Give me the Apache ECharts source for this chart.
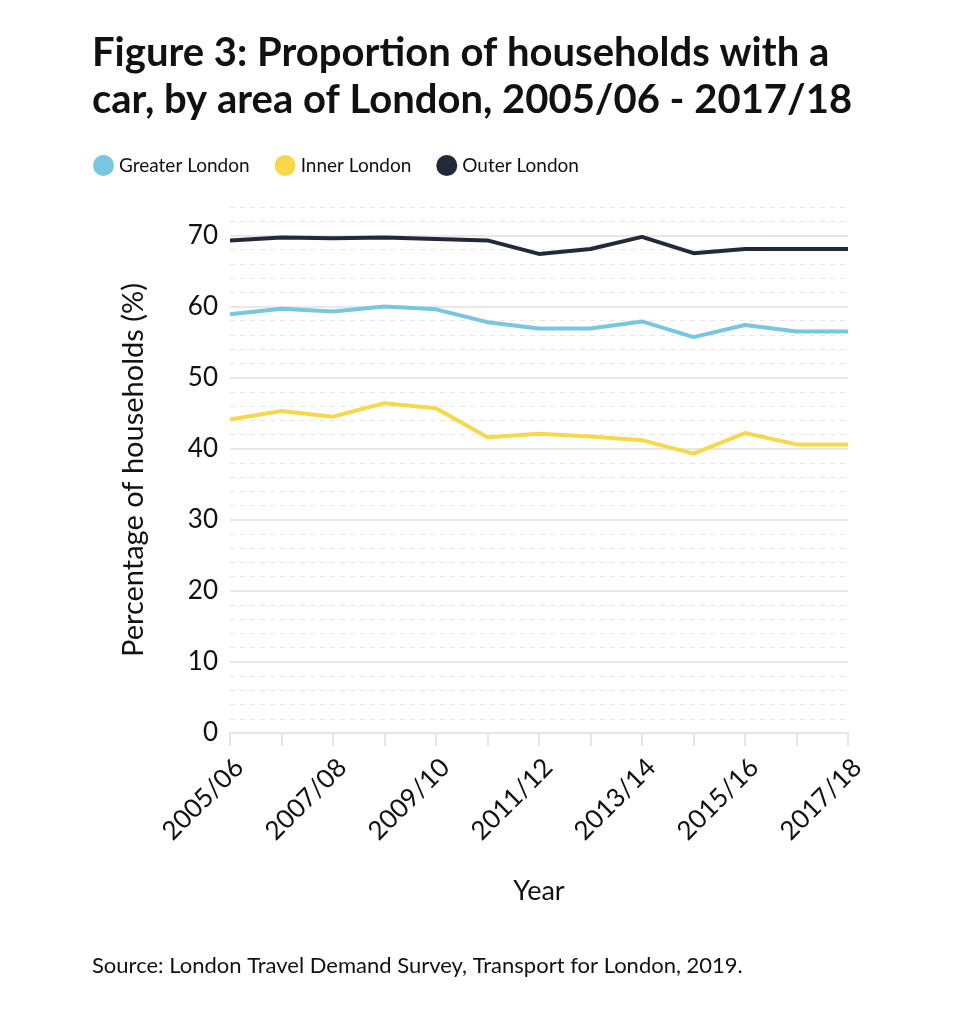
<!DOCTYPE html>
<html>
<head>
<meta charset="utf-8">
<script src="https://cdn.jsdelivr.net/npm/echarts@6/dist/echarts.min.js"></script>
<style>
  html, body { margin: 0; padding: 0; background: #fff; }
  #chart { width: 964px; height: 1024px; }
</style>
</head>
<body>
<div id="chart"></div>
<script>
var years = ['2005/06', '2006/07', '2007/08', '2008/09', '2009/10', '2010/11', '2011/12',
  '2012/13', '2013/14', '2014/15', '2015/16', '2016/17', '2017/18'];
var greaterLondon = [58.9, 59.7, 59.3, 60.0, 59.6, 57.8, 56.9, 56.9, 57.9, 55.7, 57.4, 56.5, 56.5];
var innerLondon = [44.1, 45.3, 44.5, 46.4, 45.7, 41.6, 42.1, 41.7, 41.2, 39.3, 42.2, 40.6, 40.6];
var outerLondon = [69.3, 69.7, 69.6, 69.7, 69.5, 69.3, 67.4, 68.1, 69.8, 67.5, 68.1, 68.1, 68.1];

var font = 'Lato';
var majorColors = [];
for (var i = 0; i < 8; i++) majorColors.push('#e8e8e8');
majorColors.push('rgba(0,0,0,0)');

var chart = echarts.init(document.getElementById('chart'));
chart.setOption({
  animation: false,
  textStyle: { fontFamily: font },
  title: [{
    text: 'Figure 3: Proportion of households with a\ncar, by area of London, 2005/06 - 2017/18',
    left: 87, top: 25,
    textStyle: { fontFamily: font, fontWeight: 'bold', fontSize: 40, lineHeight: 47, color: '#111' }
  }, {
    text: 'Source: London Travel Demand Survey, Transport for London, 2019.',
    left: 87, top: 950,
    textStyle: { fontFamily: font, fontWeight: 'normal', fontSize: 22, color: '#111' }
  }],
  legend: {
    left: 88, top: 150,
    icon: 'circle', itemWidth: 21, itemHeight: 21, itemGap: 25,
    textStyle: { fontSize: 19, color: '#111', fontFamily: font },
    data: ['Greater London', 'Inner London', 'Outer London']
  },
  grid: { left: 230, right: 116, top: 207, bottom: 291 },
  xAxis: {
    type: 'category',
    data: years,
    boundaryGap: false,
    name: 'Year',
    nameLocation: 'middle',
    nameGap: 145,
    nameTextStyle: { fontSize: 27, color: '#111' },
    axisLine: { lineStyle: { color: '#e6e6e6', width: 2 } },
    axisTick: { show: true, interval: 0, length: 13, lineStyle: { color: '#e6e6e6', width: 2 } },
    axisLabel: { interval: 1, rotate: 45, fontSize: 26, color: '#111', margin: 21, verticalAlign: 'top' },
    splitLine: { show: false }
  },
  yAxis: [{
    type: 'value', min: 0, max: 74, interval: 2,
    axisLabel: { show: false }, axisLine: { show: false }, axisTick: { show: false },
    splitLine: { show: true, lineStyle: { type: [5, 5], color: '#e6e6e6', width: 1 } }
  }, {
    type: 'value', min: 0, max: 74, interval: 10, position: 'left',
    name: 'Percentage of households (%)',
    nameLocation: 'middle',
    nameGap: 82,
    nameTextStyle: { fontSize: 29, color: '#111' },
    axisLine: { show: false }, axisTick: { show: false },
    axisLabel: { fontSize: 26, color: '#111', margin: 12, showMaxLabel: false },
    splitLine: { show: true, lineStyle: { color: majorColors, width: 2 } }
  }],
  series: [{
    name: 'Greater London', type: 'line', yAxisIndex: 1, data: greaterLondon,
    symbol: 'none', lineStyle: { width: 4, color: '#78c6e0' }, itemStyle: { color: '#78c6e0' }
  }, {
    name: 'Inner London', type: 'line', yAxisIndex: 1, data: innerLondon,
    symbol: 'none', lineStyle: { width: 4, color: '#f6d84a' }, itemStyle: { color: '#f6d84a' }
  }, {
    name: 'Outer London', type: 'line', yAxisIndex: 1, data: outerLondon,
    symbol: 'none', lineStyle: { width: 4, color: '#222a3a' }, itemStyle: { color: '#222a3a' }
  }]
});
</script>
</body>
</html>
